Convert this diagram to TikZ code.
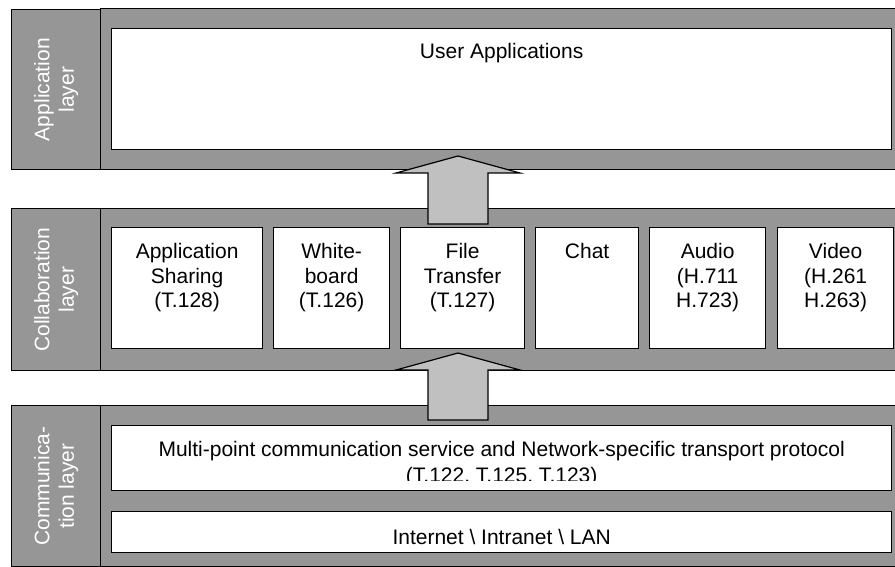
\documentclass[tikz,border=0pt]{standalone}
\usepackage{fontspec}
\setmainfont{Liberation Sans}
\definecolor{layergray}{HTML}{969696}
\definecolor{arrowgray}{HTML}{C0C0C0}
\begin{document}
\begin{tikzpicture}[x=1pt,y=-1pt,
  font=\fontsize{21}{24.5}\selectfont,
  graybox/.style={draw=black, line width=1.3pt, fill=layergray, inner sep=0pt, anchor=north west},
  whitebox/.style={draw=black, line width=1.3pt, fill=white, inner sep=0pt, anchor=north west, align=center},
  threeline/.style={whitebox, text height=80, text depth=41},
  layertext/.style={text=white, rotate=90, align=center, inner sep=0pt},
  bigarrow/.style={draw=black, line width=1.2pt, fill=arrowgray, line join=miter}
]
\useasboundingbox (0,0) rectangle (895,567);
\clip (0,0) rectangle (895,567);

% ---------- layer frames ----------
\node[graybox, minimum width=89, minimum height=160] (applbl) at (11,9) {};
\node[graybox, minimum width=810, minimum height=161] (appmain) at (100,8) {};
\node[layertext] at (applbl.center) {Application\\layer};

\node[graybox, minimum width=89, minimum height=162] (collbl) at (11,208) {};
\node[graybox, minimum width=810, minimum height=162] (colmain) at (100,208) {};
\node[layertext] at (collbl.center) {Collaboration\\layer};

\node[graybox, minimum width=89, minimum height=161] (comlbl) at (11,405) {};
\node[graybox, minimum width=810, minimum height=161] (commain) at (100,405) {};
\node[layertext] at (comlbl.center) {Communica-\\tion layer};

% ---------- block arrows ----------
\draw[bigarrow, shift={(458,156)}] (-30,68) -- (-30,17) -- (-62,17) -- (0,0) -- (62,17) -- (30,17) -- (30,68) -- cycle;
\draw[bigarrow, shift={(458,353)}] (-30,67) -- (-30,17) -- (-62,17) -- (0,0) -- (62,17) -- (30,17) -- (30,67) -- cycle;

% ---------- application layer ----------
\node[whitebox, minimum width=780, text height=29.7, text depth=91.3] (user) at (111,28) {User Applications};

% ---------- collaboration layer ----------
\node[threeline, minimum width=151] (share) at (111,227) {Application\\Sharing\\(T.128)};
\node[threeline, minimum width=116] (wb) at (273,227) {White-\\board\\(T.126)};
\node[threeline, minimum width=124] (ft) at (400,227) {File\\Transfer\\(T.127)};
\node[whitebox, minimum width=103, text height=31, text depth=90] (chat) at (535,227) {Chat};
\node[threeline, minimum width=116] (audio) at (649,227) {Audio\\(H.711\\H.723)};
\node[threeline, minimum width=116] (video) at (777,227) {Video\\(H.261\\H.263)};

% ---------- communication layer ----------
\node[whitebox, minimum width=780, minimum height=65] (mcs) at (111,425) {};
\begin{scope}
  \clip ([xshift=1pt,yshift=-1pt]mcs.north west) rectangle ([xshift=-1pt,yshift=11pt]mcs.south east);
  \node[align=center, inner sep=0pt, anchor=base] (mcstext) at ([yshift=-57pt]mcs.north)
    {Multi-point communication service and Network-specific transport protocol\\[1.5pt](T.122, T.125, T.123)};
\end{scope}
\node[whitebox, minimum width=780, text height=33, text depth=8] (net) at (111,511) {Internet \textbackslash{} Intranet \textbackslash{} LAN};
\end{tikzpicture}
\end{document}
